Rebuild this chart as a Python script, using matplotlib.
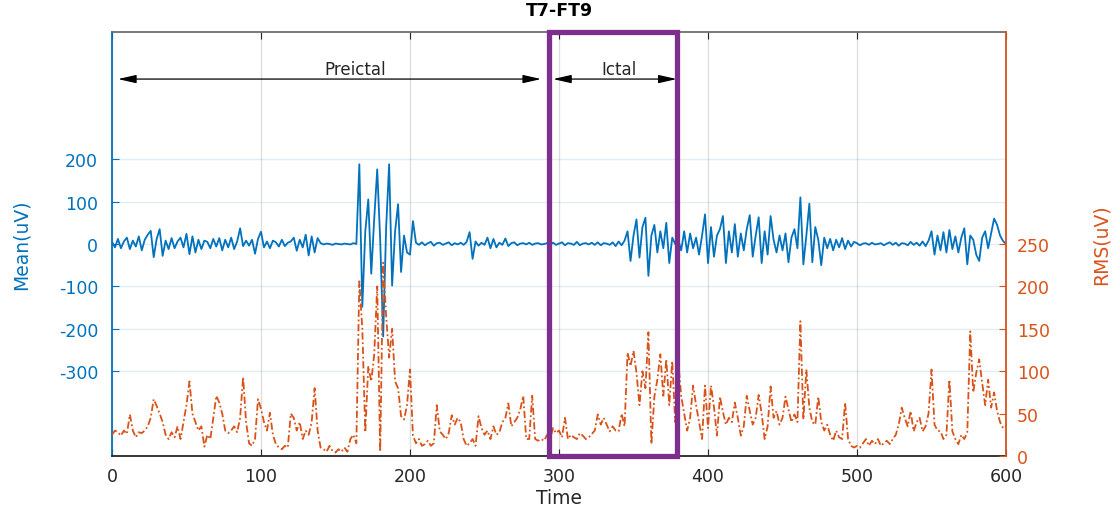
import matplotlib
matplotlib.use("Agg")
import matplotlib.pyplot as plt
import numpy as np

plt.rcParams['axes.unicode_minus'] = False

# time axis (s), one sample every 2 s
time = np.arange(0, 601, 2)

# mean amplitude (uV), left axis
mean_uv = [
    5, -8, 12, -10, 6, 15, -12, 8, -6, 18,
    -15, 10, 22, 31, -31, 12, 35, -28, 8, -12,
    14, -10, 6, 15, -8, 24, -24, 18, -20, 10,
    -12, 8, 5, -10, 12, -6, 14, -15, 10, -8,
    15, -12, 6, 37, -5, 8, -4, 10, -23, 12,
    29, -8, 6, -10, 8, 4, -6, 10, -5, 3,
    6, 15, -16, 10, -8, 22, -27, 18, -20, 14,
    2, -1, 1, 0, -2, 1, 0, -1, 1, 0,
    -1, 2, 0, 188, -148, 30, 105, -70, 60, 176,
    10, -218, 40, 188, -98, 30, 94, -66, 20, -20,
    -25, 54, 3, -2, 4, -3, 2, 5, -4, 2,
    3, -2, 1, 4, -3, 2, -1, 3, -2, 5,
    28, -35, 6, -4, 3, -2, 15, -10, 12, -8,
    3, -2, 13, -5, 2, 4, -3, 1, 2, -1,
    3, -2, 1, 2, -1, 0, 2, -1, 3, -2,
    1, 4, -3, 2, 1, -2, 5, -3, 1, 2,
    -1, 3, -2, 4, -3, 2, 1, -2, 4, -5,
    6, -3, 8, 30, -40, 20, 58, -32, 40, 62,
    -75, 20, 45, -20, 30, -10, 50, -45, 15, 0,
    10, -15, 30, -20, 25, -10, 15, -25, 20, 70,
    -45, 40, -30, 20, 35, 66, -45, 30, -20, 47,
    -30, 25, -15, 35, 68, -30, 20, 63, -45, 30,
    -25, 66, 10, -20, 20, -15, 25, -43, 15, 35,
    -10, 110, -48, 20, 95, -43, 40, 10, -50, 15,
    -10, 12, -15, 10, -8, 14, -12, 8, -6, 5,
    2, -3, 1, 2, -2, 3, -1, 0, 2, -3,
    1, 4, -2, 3, -4, 2, 1, -3, 5, -2,
    3, -4, 6, -5, 8, 30, -25, 20, -15, 28,
    -20, 33, -12, 18, -20, 15, 37, -48, 20, 10,
    -25, -40, 15, 30, -10, 25, 60, 45, 20, 7,
    0,
]

# RMS amplitude (uV), right axis
rms_uv = [
    25, 30, 28, 24, 30, 26, 49, 30, 22, 28,
    27, 30, 35, 45, 67, 59, 50, 40, 25, 20,
    28, 22, 35, 20, 40, 60, 88, 50, 40, 30,
    35, 11, 25, 20, 45, 71, 63, 50, 30, 27,
    30, 35, 28, 45, 93, 40, 15, 12, 20, 67,
    56, 40, 30, 51, 25, 14, 10, 8, 12, 10,
    50, 45, 30, 40, 20, 30, 25, 40, 80, 30,
    10, 8, 5, 12, 6, 4, 8, 5, 10, 5,
    20, 25, 15, 206, 150, 28, 106, 88, 120, 200,
    5, 228, 165, 116, 150, 88, 80, 47, 43, 60,
    102, 24, 15, 20, 12, 14, 18, 12, 15, 60,
    29, 25, 20, 27, 48, 37, 45, 40, 20, 12,
    15, 20, 12, 47, 33, 25, 30, 20, 35, 25,
    28, 40, 45, 62, 35, 40, 45, 55, 71, 20,
    20, 71, 20, 18, 20, 18, 25, 20, 33, 27,
    30, 22, 45, 20, 25, 22, 20, 27, 24, 20,
    22, 26, 30, 49, 37, 45, 37, 29, 35, 30,
    29, 50, 35, 122, 106, 124, 98, 60, 100, 80,
    146, 14, 70, 90, 120, 71, 114, 60, 112, 40,
    112, 71, 50, 30, 45, 83, 60, 40, 20, 83,
    33, 83, 58, 24, 70, 52, 37, 45, 40, 63,
    45, 24, 35, 71, 53, 37, 45, 72, 50, 20,
    35, 82, 45, 53, 37, 45, 70, 55, 40, 49,
    40, 159, 43, 102, 57, 40, 37, 70, 40, 30,
    37, 25, 18, 30, 22, 20, 63, 20, 12, 10,
    12, 10, 15, 20, 12, 18, 14, 20, 12, 15,
    18, 14, 20, 25, 37, 57, 45, 35, 53, 29,
    40, 45, 29, 35, 50, 102, 37, 30, 29, 20,
    25, 90, 29, 20, 14, 25, 20, 28, 147, 75,
    98, 114, 86, 60, 90, 57, 75, 53, 40, 33,
    35,
]

mean_ticks = [-300, -200, -100, 0, 100, 200]
rms_ticks = [0, 50, 100, 150, 200, 250]
time_ticks = [0, 100, 200, 300, 400, 500, 600]

preictal_span = (4, 288)
ictal_span = (296, 379)
ictal_box = (293.5, 379.5)

blue = '#0072BD'
orange = '#D95319'
purple = '#7E2F8E'
dark = '#262626'

fig = plt.figure(figsize=(11.12, 5.10), dpi=100)
ax = fig.add_axes([0.1007, 0.1039, 0.804, 0.8314])
ax2 = ax.twinx()

ax.plot(time, mean_uv, color=blue, lw=1.3)
ax2.plot(time, rms_uv, color=orange, lw=1.3, ls=(0, (4, 1.5, 1, 1.5)))

ax.set_xlim(0, 600)
ax.set_ylim(-500, 500)
ax2.set_ylim(0, 500)
ax.set_xticks(time_ticks)
ax.set_yticks(mean_ticks)
ax2.set_yticks(rms_ticks)

# grid lines, MATLAB style
ax.grid(axis='x', color=dark, alpha=0.15, lw=1)
ax.grid(axis='y', color=blue, alpha=0.12, lw=1)
ax.set_axisbelow(True)

fs = 12.5
ax.tick_params(axis='x', direction='in', top=True, colors=dark, labelsize=fs, length=5, pad=8)
ax.tick_params(axis='y', direction='in', colors=blue, labelsize=fs, length=5, pad=10)
ax2.tick_params(axis='y', direction='in', colors=orange, labelsize=fs, length=5, pad=8)

for s in ['left', 'right', 'top', 'bottom']:
    ax2.spines[s].set_visible(False)
ax.spines['right'].set_visible(False)
ax2.spines['right'].set_visible(True)
ax2.spines['right'].set_color(orange)
ax.spines['left'].set_color(blue)
ax.spines['top'].set_color('#6e6e6e')
ax.spines['bottom'].set_color(dark)
for s in ['left', 'top', 'bottom']:
    ax.spines[s].set_linewidth(1.3)
ax2.spines['right'].set_linewidth(1.3)

ax.set_xlabel('Time', fontsize=13.5, color=dark, labelpad=2)
ax.set_ylabel('Mean(uV)', fontsize=13.5, color=blue, labelpad=20)
ax2.set_ylabel('RMS(uV)', fontsize=13.5, color=orange, labelpad=30)
ax.set_title('T7-FT9', fontsize=12.5, fontweight='bold', color='black', pad=12)

# seizure window box
ax2.add_patch(plt.Rectangle((ictal_box[0], 0), ictal_box[1] - ictal_box[0], 1,
                            transform=ax2.get_xaxis_transform(), fill=False,
                            edgecolor=purple, lw=3.8, clip_on=False, zorder=5))

# phase arrows
arrow_kw = dict(arrowstyle='<|-|>,head_length=1.1,head_width=0.25', color='black', lw=0.9,
                shrinkA=0, shrinkB=0)
for (x0, x1) in [preictal_span, ictal_span]:
    ax2.annotate('', xy=(x0, 0.889), xytext=(x1, 0.889),
                 xycoords=('data', 'axes fraction'), textcoords=('data', 'axes fraction'),
                 arrowprops=arrow_kw, zorder=6)
ax2.text(163, 0.913, 'Preictal', transform=ax2.get_xaxis_transform(),
         ha='center', va='center', fontsize=12, color=dark)
ax2.text(340, 0.913, 'Ictal', transform=ax2.get_xaxis_transform(),
         ha='center', va='center', fontsize=12, color=dark)

fig.savefig('out.png', dpi=100)
